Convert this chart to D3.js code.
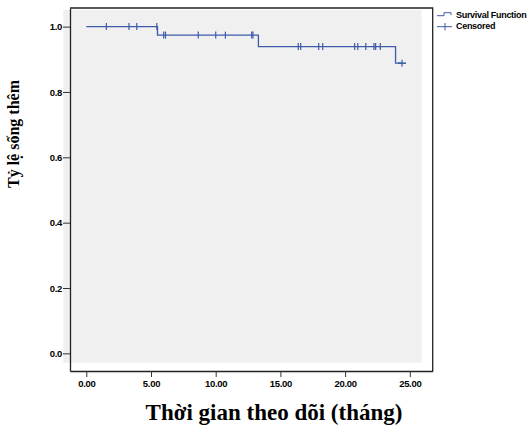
<!DOCTYPE html>
<html>
<head>
<meta charset="utf-8">
<script src="https://cdn.jsdelivr.net/npm/d3@7"></script>
<style>
  body { margin: 0; background: #fff; }
  svg { display: block; }
</style>
</head>
<body>
<div id="chart"></div>
<script>
// Kaplan-Meier steps (time where survival drops, survival after drop)
var stepTimes = [0, 5.5, 13.3, 23.9];
var stepSurv = [1.0, 0.974, 0.939, 0.888];
var lastTime = 24.4;
// censored observations (months)
var censorTimes = [1.55, 3.3, 3.9, 5.45, 5.98, 6.12, 8.65, 10.0, 10.75, 12.78, 12.88,
  16.38, 16.57, 17.96, 18.27, 20.74, 20.98, 21.6, 22.23, 22.36, 22.72, 24.4];
var xTicks = [0, 5, 10, 15, 20, 25];
var yTicks = [0, 0.2, 0.4, 0.6, 0.8, 1.0];
var legendLabels = ["Survival Function", "Censored"];

var width = 528, height = 426,
  blue = "#3d5ba8";

var svg = d3.select("#chart").append("svg")
  .attr("width", width)
  .attr("height", height);

var x = d3.scaleLinear().domain([-1.26, 26.77]).range([70, 432.7]);
var y = d3.scaleLinear().domain([-0.054, 1.057]).range([371, 8]);

// survival value at time t
function survAt(t) {
  var s = stepSurv[0];
  for (var i = 0; i < stepTimes.length; i++) {
    if (stepTimes[i] <= t) s = stepSurv[i];
  }
  return s;
}

// gray plot background (slightly offset as in the original)
svg.append("rect")
  .attr("x", x.range()[0] - 6.7)
  .attr("y", y.range()[1] + 2)
  .attr("width", x.range()[1] - x.range()[0] - 4.4)
  .attr("height", y.range()[0] - y.range()[1] - 10.3)
  .attr("fill", "#f0f0f0");

// frame top / right
svg.append("path")
  .attr("d", "M" + x.range()[0] + "," + y.range()[1] + "H" + x.range()[1] + "V" + y.range()[0])
  .attr("fill", "none")
  .attr("stroke", "#222")
  .attr("stroke-width", 1.3);

// axes
svg.append("g")
  .attr("transform", "translate(" + x.range()[0] + ",0)")
  .call(d3.axisLeft(y).tickValues(yTicks).tickFormat(d3.format(".1f"))
    .tickSize(7).tickSizeOuter(0).tickPadding(1));

svg.append("g")
  .attr("transform", "translate(0," + y.range()[0] + ")")
  .call(d3.axisBottom(x).tickValues(xTicks).tickFormat(d3.format(".2f"))
    .tickSize(6).tickSizeOuter(0).tickPadding(3));

svg.selectAll(".domain").attr("stroke", "#222").attr("stroke-width", 1.3);
svg.selectAll(".tick line").attr("stroke", "#333");
svg.selectAll(".tick text")
  .attr("font-family", "Liberation Sans, Arial, sans-serif")
  .attr("font-weight", "bold")
  .attr("font-size", 9.5)
  .attr("letter-spacing", -0.3)
  .attr("fill", "#000");

// survival curve
var pts = [];
for (var i = 0; i < stepTimes.length; i++) {
  pts.push([stepTimes[i], stepSurv[i]]);
}
pts.push([lastTime, stepSurv[stepSurv.length - 1]]);

var line = d3.line()
  .x(function (d) { return x(d[0]); })
  .y(function (d) { return y(d[1]); })
  .curve(d3.curveStepAfter);

svg.append("path")
  .datum(pts)
  .attr("d", line)
  .attr("fill", "none")
  .attr("stroke", blue)
  .attr("stroke-width", 1.3);

// censor marks
svg.selectAll(".censor")
  .data(censorTimes)
  .enter().append("line")
  .attr("class", "censor")
  .attr("x1", function (d) { return x(d); })
  .attr("x2", function (d) { return x(d); })
  .attr("y1", function (d) { return y(survAt(d)) - 3.5; })
  .attr("y2", function (d) { return y(survAt(d)) + 3.5; })
  .attr("stroke", blue)
  .attr("stroke-width", 1.2);

// final censor drawn as plus
svg.append("line")
  .attr("x1", x(lastTime) - 4)
  .attr("x2", x(lastTime) + 4)
  .attr("y1", y(survAt(lastTime)))
  .attr("y2", y(survAt(lastTime)))
  .attr("stroke", blue)
  .attr("stroke-width", 1.5);

// legend
var lg = svg.append("g").attr("transform", "translate(437,0)");
lg.append("path")
  .attr("d", "M0,15.7H7V12.7H14V15")
  .attr("fill", "none")
  .attr("stroke", blue)
  .attr("stroke-width", 1);
lg.append("line")
  .attr("x1", 0).attr("x2", 15).attr("y1", 26.7).attr("y2", 26.7)
  .attr("stroke", blue);
lg.append("line")
  .attr("x1", 8).attr("x2", 8).attr("y1", 23).attr("y2", 30.5)
  .attr("stroke", blue);
lg.selectAll(".lab")
  .data(legendLabels)
  .enter().append("text")
  .attr("x", 19)
  .attr("y", function (d, i) { return 17.5 + i * 11; })
  .attr("font-family", "Liberation Sans, Arial, sans-serif")
  .attr("font-weight", "bold")
  .attr("font-size", 9)
  .attr("letter-spacing", -0.3)
  .text(function (d) { return d; });

// axis titles
svg.append("text")
  .attr("x", 274)
  .attr("y", 420)
  .attr("text-anchor", "middle")
  .attr("font-family", "Liberation Serif, Times New Roman, serif")
  .attr("font-weight", "bold")
  .attr("font-size", 23)
  .text("Thời gian theo dõi (tháng)");

svg.append("text")
  .attr("transform", "translate(19,188) rotate(-90)")
  .attr("text-anchor", "start")
  .attr("font-family", "Liberation Serif, Times New Roman, serif")
  .attr("font-weight", "bold")
  .attr("font-size", 16)
  .text("Tỷ lệ sống thêm");
</script>
</body>
</html>
